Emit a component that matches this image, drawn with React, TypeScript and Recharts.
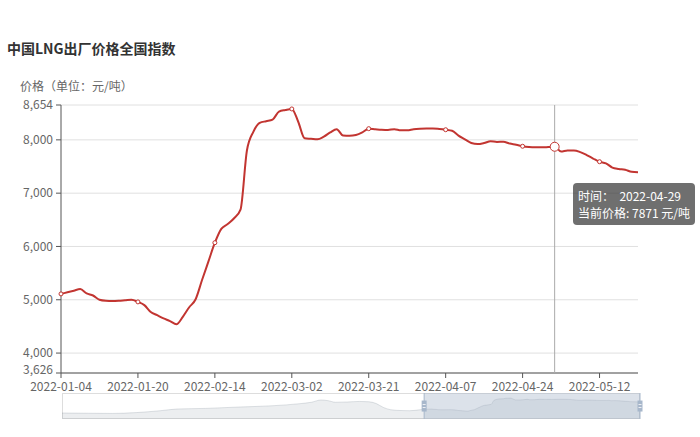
import React from 'react';
import {
  LineChart, Line, XAxis, YAxis, CartesianGrid, Tooltip,
  AreaChart, Area, ReferenceArea, ReferenceLine,
} from 'recharts';

// trading days shown in the main view
const dates = [
  '2022-01-04', '2022-01-05', '2022-01-06', '2022-01-07', '2022-01-10', '2022-01-11', '2022-01-12',
  '2022-01-13', '2022-01-14', '2022-01-17', '2022-01-18', '2022-01-19', '2022-01-20', '2022-01-21',
  '2022-01-24', '2022-01-25', '2022-01-26', '2022-01-27', '2022-01-28', '2022-02-07', '2022-02-08',
  '2022-02-09', '2022-02-10', '2022-02-11', '2022-02-14', '2022-02-15', '2022-02-16', '2022-02-17',
  '2022-02-18', '2022-02-21', '2022-02-22', '2022-02-23', '2022-02-24', '2022-02-25', '2022-02-28',
  '2022-03-01', '2022-03-02', '2022-03-03', '2022-03-04', '2022-03-07', '2022-03-08', '2022-03-09',
  '2022-03-10', '2022-03-11', '2022-03-15', '2022-03-16', '2022-03-17', '2022-03-18', '2022-03-21',
  '2022-03-22', '2022-03-23', '2022-03-24', '2022-03-25', '2022-03-28', '2022-03-29', '2022-03-30',
  '2022-03-31', '2022-04-01', '2022-04-02', '2022-04-06', '2022-04-07', '2022-04-08', '2022-04-11',
  '2022-04-12', '2022-04-13', '2022-04-14', '2022-04-15', '2022-04-18', '2022-04-19', '2022-04-20',
  '2022-04-21', '2022-04-22', '2022-04-24', '2022-04-25', '2022-04-26', '2022-04-27', '2022-04-28',
  '2022-04-29', '2022-05-05', '2022-05-06', '2022-05-07', '2022-05-09', '2022-05-10', '2022-05-11',
  '2022-05-12', '2022-05-13', '2022-05-16', '2022-05-17', '2022-05-18', '2022-05-19', '2022-05-20',
];

// 元/吨
const prices = [
  5110, 5140, 5170, 5200, 5120, 5080, 5000, 4980, 4975, 4980, 4990, 5000, 4960, 4900,
  4770, 4710, 4650, 4600, 4540, 4680, 4860, 5010, 5370, 5720, 6070, 6330, 6420, 6530,
  6690, 7800, 8150, 8320, 8350, 8380, 8530, 8560, 8580, 8340, 8030, 8020, 8010, 8060,
  8140, 8200, 8080, 8075, 8090, 8140, 8210, 8200, 8190, 8185, 8200, 8180, 8180, 8200,
  8210, 8215, 8215, 8205, 8190, 8170, 8080, 8010, 7940, 7920, 7940, 7975, 7960, 7965,
  7930, 7910, 7880, 7865, 7860, 7860, 7865, 7871, 7780, 7800, 7800, 7770, 7715, 7650,
  7590, 7560, 7480, 7455, 7440, 7400, 7390,
];

const yTicks = [3626, 4000, 5000, 6000, 7000, 8000, 8654];

// earlier history only seen in the zoom slider (trading days before 2022-01-04)
const historyOffsets = [-151, -140, -130, -120, -110, -103, -91, -77, -63, -52, -47, -43, -40, -37, -32, -27, -23, -20, -17, -14, -10, -6, -2];
const historyPrices = [3970, 3900, 3840, 4100, 4680, 5210, 5400, 5830, 6230, 6850, 7300, 8000, 7780, 7300, 7380, 7550, 7450, 6900, 5700, 4990, 4750, 4680, 4950];

const FONT = "'Noto Sans CJK SC', 'Noto Sans', sans-serif";
const RED = '#c23531';
const HANDLE = '#a7b7cb';

const data = dates.map((date, i) => ({ date, price: prices[i] }));
const overview = [
  ...historyOffsets.map((x, i) => ({ x, v: historyPrices[i] })),
  ...prices.map((v, i) => ({ x: i, v })),
];

const fmt = (v: number) => v.toLocaleString('en-US');

// y tick label; the bottom one is lifted a little so it clears the first date
const YTick = (props: any) => {
  const { x, y, payload, index } = props;
  const lift = index === 0 ? -3 : 0;
  return (
    <text x={x} y={y + lift} dy="0.355em" textAnchor="end" fill="#666" fontSize={12} fontFamily={FONT}>
      {fmt(payload.value)}
    </text>
  );
};

const MarkerDot = (props: any) => {
  const { cx, cy, index } = props;
  if (index % 12 !== 0) return <g key={`dot-${index}`} />;
  return <circle key={`dot-${index}`} cx={cx} cy={cy} r={2} fill="#fff" stroke={RED} strokeWidth={1} />;
};

const TipBox = ({ active, payload, label }: any) => {
  if (!active || !payload || !payload.length) return null;
  return (
    <div style={{
      background: 'rgba(50,50,50,0.7)', borderRadius: 4, padding: '4px 5px', color: '#fff',
      fontSize: 12, lineHeight: '17px', fontFamily: FONT, whiteSpace: 'pre',
    }}>
      <div>{`时间：  ${label}`}</div>
      <div>{`当前价格: ${payload[0].value} 元/吨`}</div>
    </div>
  );
};

const SliderHandle = (props: any) => {
  const { x1, y1, y2 } = props;
  const h = y2 - y1;
  const top = Math.min(y1, y2) + Math.abs(h) * 0.29;
  return (
    <g>
      <line x1={x1} x2={x1} y1={y1} y2={y2} stroke={HANDLE} strokeWidth={1} />
      <rect x={x1 - 2.5} y={top} width={5} height={11} fill={HANDLE} />
      <line x1={x1 - 1.5} x2={x1 + 1.5} y1={top + 4} y2={top + 4} stroke="#fff" strokeWidth={0.8} />
      <line x1={x1 - 1.5} x2={x1 + 1.5} y1={top + 7} y2={top + 7} stroke="#fff" strokeWidth={0.8} />
    </g>
  );
};

export default function App() {
  return (
    <div style={{ position: 'absolute', left: 0, top: 0, width: 700, height: 437, background: '#fff', fontFamily: FONT }}>
      <div style={{ position: 'absolute', left: 7, top: 38, fontSize: 14, lineHeight: '20px', fontWeight: 'bold', color: '#333' }}>
        中国LNG出厂价格全国指数
      </div>
      <div style={{ position: 'absolute', left: 20, top: 78, fontSize: 12, lineHeight: '16px', color: '#666' }}>
        价格（单位：元/吨）
      </div>

      <div style={{ position: 'absolute', left: 0, top: 0 }}>
        <LineChart width={700} height={400} data={data} margin={{ top: 105, right: 62, left: 0, bottom: 0 }}>
          <CartesianGrid vertical={false} stroke="#e0e0e0" />
          <XAxis
            dataKey="date"
            interval={11}
            height={27}
            tickSize={5}
            tickMargin={4}
            axisLine={{ stroke: '#555' }}
            tickLine={{ stroke: '#555' }}
            tick={{ fill: '#666', fontSize: 12, fontFamily: FONT }}
          />
          <YAxis
            width={61}
            domain={[3626, 8654]}
            ticks={yTicks}
            interval={0}
            allowDataOverflow
            tickSize={5}
            tickMargin={3}
            axisLine={{ stroke: '#555' }}
            tickLine={{ stroke: '#555' }}
            tick={<YTick />}
          />
          <Tooltip
            defaultIndex={77}
            content={<TipBox />}
            position={{ x: 573, y: 183 }}
            cursor={{ stroke: '#aaa', strokeWidth: 1 }}
            isAnimationActive={false}
            wrapperStyle={{ outline: 'none' }}
          />
          <Line
            type="monotone"
            dataKey="price"
            stroke={RED}
            strokeWidth={2}
            dot={<MarkerDot />}
            activeDot={{ r: 4.5, fill: '#fff', stroke: RED, strokeWidth: 1 }}
            isAnimationActive={false}
          />
        </LineChart>
      </div>

      {/* zoom slider */}
      <div style={{ position: 'absolute', left: 62, top: 393, width: 578, height: 26, boxSizing: 'border-box', border: '1px solid #ddd' }} />
      <div style={{ position: 'absolute', left: 58, top: 393 }}>
        <AreaChart width={586} height={26} data={overview} margin={{ top: 0, right: 4, left: 4, bottom: 0 }}>
          <XAxis type="number" dataKey="x" domain={[-151, 90]} hide />
          <YAxis domain={[2117, 10163]} hide />
          <Area
            type="monotone"
            dataKey="v"
            stroke="#2f4554"
            strokeOpacity={0.3}
            strokeWidth={0.5}
            fill="#2f4554"
            fillOpacity={0.09}
            dot={false}
            activeDot={false}
            isAnimationActive={false}
          />
          <ReferenceArea x1={0} x2={90} fill={HANDLE} fillOpacity={0.4} stroke="none" />
          <ReferenceLine x={0} shape={(p: any) => <SliderHandle {...p} />} />
          <ReferenceLine x={90} shape={(p: any) => <SliderHandle {...p} />} />
        </AreaChart>
      </div>
    </div>
  );
}
